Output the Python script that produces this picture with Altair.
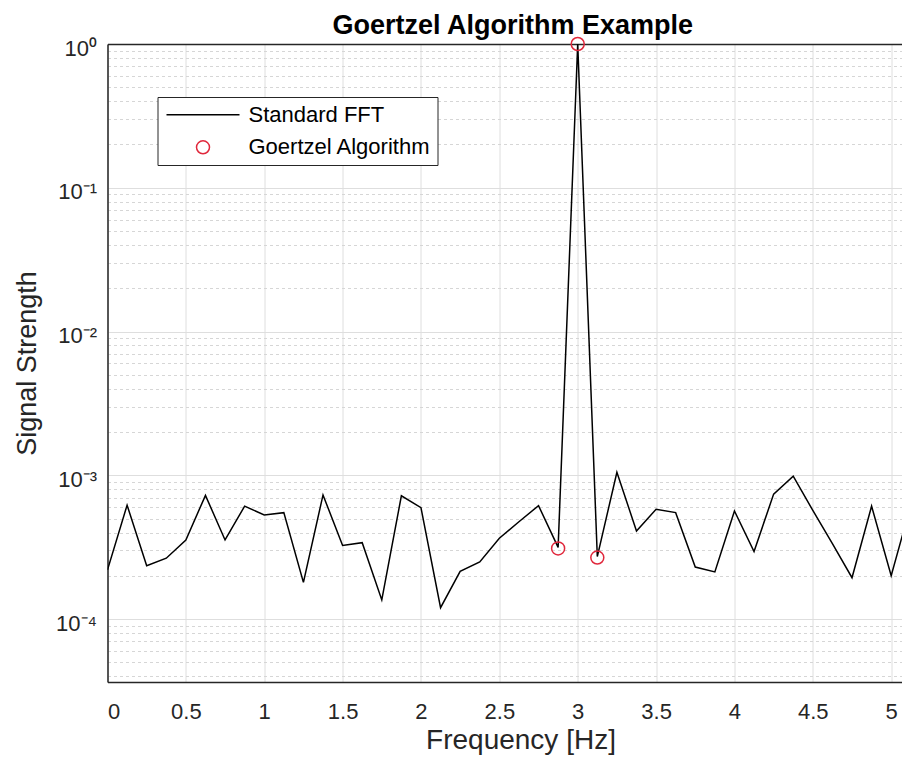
import altair as alt
import pandas as pd

# ---- data ----
freq = [0.0, 0.125, 0.25, 0.375, 0.5, 0.625, 0.75, 0.875,
        1.0, 1.125, 1.25, 1.375, 1.5, 1.625, 1.75, 1.875,
        2.0, 2.125, 2.25, 2.375, 2.5, 2.625, 2.75, 2.875,
        3.0, 3.125, 3.25, 3.375, 3.5, 3.625, 3.75, 3.875,
        4.0, 4.125, 4.25, 4.375, 4.5, 4.625, 4.75, 4.875,
        5.0, 5.125]
fft_strength = [2.2e-4, 6.2e-4, 2.35e-4, 2.65e-4, 3.55e-4, 7.25e-4, 3.55e-4, 6.1e-4,
                5.3e-4, 5.5e-4, 1.8e-4, 7.3e-4, 3.25e-4, 3.4e-4, 1.36e-4, 7.2e-4,
                5.95e-4, 1.2e-4, 2.15e-4, 2.5e-4, 3.65e-4, 4.75e-4, 6.15e-4, 3.15e-4,
                1.0, 2.72e-4, 1.05e-3, 4.1e-4, 5.8e-4, 5.5e-4, 2.3e-4, 2.13e-4,
                5.65e-4, 2.95e-4, 7.4e-4, 9.85e-4, 5.7e-4, 3.35e-4, 1.94e-4, 6.1e-4,
                2.0e-4, 6.2e-4]
goertzel_freq = [2.875, 3.0, 3.125]
goertzel_strength = [3.1e-4, 1.0, 2.68e-4]
series_names = ["Standard FFT", "Goertzel Algorithm"]
series_colors = ["#000000", "#e0283c"]

x_ticks = [0, 0.5, 1, 1.5, 2, 2.5, 3, 3.5, 4, 4.5, 5]
y_exponents = [-4, -3, -2, -1, 0]
y_major_labels = ["10\u207b\u2074", "10\u207b\u00b3", "10\u207b\u00b2", "10\u207b\u00b9", "10\u2070"]
x_domain = [0, 5.069]
y_domain = [3.65e-5, 1.0]

FONT = "Liberation Sans"
AXC = "#262626"

fft_df = pd.DataFrame({"f": freq, "s": fft_strength, "series": series_names[0]})
g_df = pd.DataFrame({"f": goertzel_freq, "s": goertzel_strength, "series": series_names[1]})

# minor + major tick values on the log axis
y_values = [k * 10.0 ** e for e in range(-5, 0) for k in range(1, 10)
            if k * 10.0 ** e >= y_domain[0] * 0.999] + [1.0]

EXP = "round(log(datum.value)/LN10)"
MAJOR = f"abs(log(datum.value)/LN10 - {EXP}) < 0.001"
lbl = "''"
for e, t in zip(y_exponents, y_major_labels):
    lbl = f"({EXP} == {e}) ? '{t}' : {lbl}"
y_label_expr = f"({MAJOR}) ? ({lbl}) : ''"

x_scale = alt.Scale(domain=x_domain, nice=False, zero=False)
y_scale = alt.Scale(type="log", domain=y_domain, nice=False)

x_axis = alt.Axis(values=x_ticks, format="~g", title="Frequency [Hz]",
                  ticks=False, labelPadding=19, labelFontSize=22, labelFont=FONT,
                  labelColor=AXC, titleFontSize=28, titleFont=FONT,
                  titleFontWeight="normal", titleColor=AXC,
                  titleX=413, titleY=66, titleBaseline="alphabetic",
                  gridColor="#dedede", gridWidth=1,
                  domainColor=AXC, domainWidth=1.5)
x_top_axis = alt.Axis(orient="top", labels=False, ticks=False, grid=False, title=None,
                      domainColor=AXC, domainWidth=1.5)
y_axis = alt.Axis(values=y_values, labelExpr=y_label_expr, title="Signal Strength",
                  ticks=False, labelPadding=11, labelOffset=4, labelFontSize=22, labelFont=FONT,
                  labelColor=AXC, titleFontSize=27, titleFont=FONT,
                  titleFontWeight="normal", titleColor=AXC,
                  titleX=-72, titleY=319, titleBaseline="alphabetic",
                  labelOverlap=False,
                  gridColor={"condition": {"test": MAJOR, "value": "#dedede"}, "value": "#d6d6d6"},
                  gridDash={"condition": {"test": MAJOR, "value": []}, "value": [3, 3]},
                  gridWidth=1,
                  domainColor=AXC, domainWidth=1.5)

legend = alt.Legend(title=None, orient="none", legendX=50, legendY=53,
                    padding=6, symbolOffset=2, labelOffset=8, rowPadding=8.6,
                    clipHeight=23.4,
                    strokeColor=AXC, fillColor="white",
                    labelFontSize=22, labelFont=FONT, labelColor="#000000",
                    labelLimit=400, symbolStrokeWidth=1.5)

color = alt.Color("series:N", scale=alt.Scale(domain=series_names, range=series_colors), legend=legend)
shape = alt.Shape("series:N", scale=alt.Scale(domain=series_names, range=["stroke", "circle"]), legend=legend)
size = alt.Size("series:N", scale=alt.Scale(domain=series_names, range=[5329, 169]), legend=legend)

line = alt.Chart(fft_df).mark_line(strokeWidth=1.5, clip=True).encode(
    x=alt.X("f:Q", scale=x_scale, axis=x_axis),
    y=alt.Y("s:Q", scale=y_scale, axis=y_axis),
    color=color,
)
pts = alt.Chart(g_df).mark_point(filled=False, strokeWidth=1.5, opacity=1).encode(
    x=alt.X("f:Q", scale=x_scale, axis=x_top_axis),
    y=alt.Y("s:Q", scale=y_scale),
    color=color, shape=shape, size=size,
)

chart = alt.layer(line, pts).resolve_axis(x="independent").properties(
    width=794.5, height=638,
    padding={"left": 99.5, "top": 36, "right": 0, "bottom": 75},
    autosize=alt.AutoSizeParams(type="none"),
    title=alt.TitleParams("Goertzel Algorithm Example", fontSize=27, font=FONT,
                          fontWeight="bold", color="#000000", anchor="middle",
                          frame="group", baseline="alphabetic", offset=16, dy=42, dx=8),
).configure_view(stroke=None).configure(background="white")

chart.save("out.html", embed_options={"renderer": "svg", "actions": False})
